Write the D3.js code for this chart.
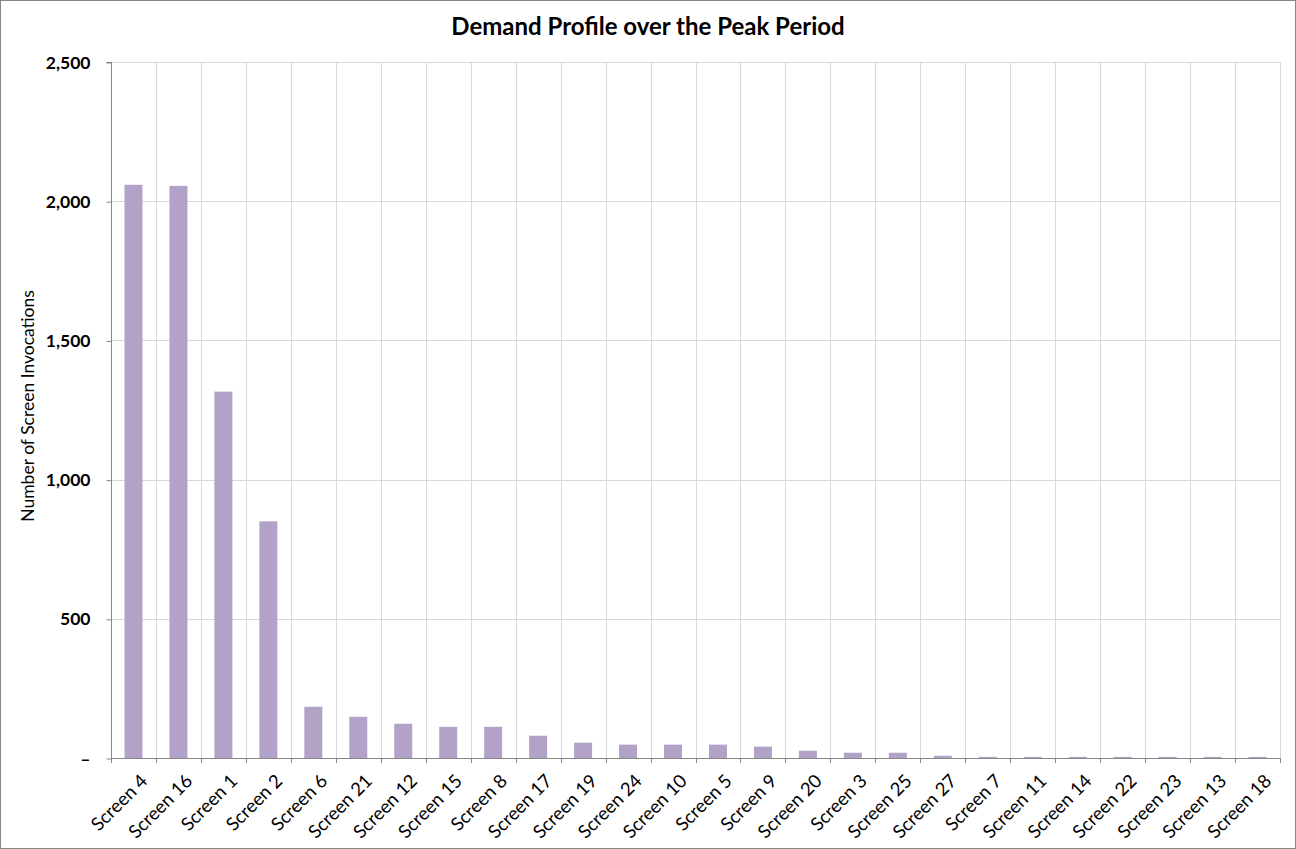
<!DOCTYPE html>
<html>
<head>
<meta charset="utf-8">
<script src="https://cdn.jsdelivr.net/npm/d3@7"></script>
<style>
html,body{margin:0;padding:0;background:#fff;}
svg{display:block;}
text{font-family:Lato,"Open Sans",sans-serif;fill:#000;}
</style>
</head>
<body>
<svg id="chart" width="1296" height="849"></svg>
<script>
const categories = ["Screen 4","Screen 16","Screen 1","Screen 2","Screen 6","Screen 21","Screen 12","Screen 15","Screen 8","Screen 17","Screen 19","Screen 24","Screen 10","Screen 5","Screen 9","Screen 20","Screen 3","Screen 25","Screen 27","Screen 7","Screen 11","Screen 14","Screen 22","Screen 23","Screen 13","Screen 18"];
const values = [2059,2055,1316,850,184,148,123,112,112,80,55,48,48,48,41,26,19,19,8,4,4,4,4,4,4,4];
const yTicks = [0,500,1000,1500,2000,2500];
const title = "Demand Profile over the Peak Period";
const yTitle = "Number of Screen Invocations";

const svg = d3.select("#chart");
const W = 1296, H = 849;
const m = {left:111, right:1280, top:62, bottom:758};

svg.append("rect").attr("x",0.5).attr("y",0.5).attr("width",W-1).attr("height",H-1)
  .attr("fill","#fff").attr("stroke","#868686").attr("stroke-width",1);

const x = d3.scaleBand().domain(categories).range([m.left,m.right]).paddingInner(0).paddingOuter(0);
const y = d3.scaleLinear().domain([0,2500]).range([m.bottom,m.top]);

// horizontal gridlines
svg.append("g").selectAll("line").data(yTicks.filter(d=>d>0)).join("line")
  .attr("x1",m.left).attr("x2",m.right)
  .attr("y1",d=>Math.round(y(d))+0.5).attr("y2",d=>Math.round(y(d))+0.5)
  .attr("stroke","#d9d9d9");
// vertical gridlines at category boundaries
const bounds = categories.map(c=>x(c)).slice(1).concat([m.right]);
svg.append("g").selectAll("line").data(bounds).join("line")
  .attr("x1",d=>Math.round(d)+0.5).attr("x2",d=>Math.round(d)+0.5)
  .attr("y1",m.top).attr("y2",m.bottom)
  .attr("stroke","#d9d9d9");

// bars
const bw = x.bandwidth()*0.4;
svg.append("g").selectAll("rect").data(values).join("rect")
  .attr("x",(d,i)=>x(categories[i])+(x.bandwidth()-bw)/2)
  .attr("width",bw)
  .attr("y",d=>y(d))
  .attr("height",d=>y(0)-y(d))
  .attr("fill","#b3a2c7");

// y axis
const yAxis = d3.axisLeft(y).tickValues(yTicks).tickSize(5).tickPadding(16)
  .tickFormat(d=>d===0?"–":d3.format(",")(d));
const gy = svg.append("g").attr("transform",`translate(${m.left+0.5},0.5)`).call(yAxis);
gy.select(".domain").attr("stroke","#868686").attr("d",`M-5,${m.top}H0V${m.bottom}`);
gy.selectAll(".tick line").attr("stroke","#868686");
gy.selectAll(".tick text").attr("font-size","17.5px").attr("font-family","Lato,sans-serif")
  .attr("font-weight","bold").attr("fill","#000");

// x axis
const xAxis = d3.axisBottom(x).tickSize(0).tickFormat("");
const gx = svg.append("g").attr("transform",`translate(0,${m.bottom+0.5})`).call(xAxis);
gx.select(".domain").attr("stroke","#868686").attr("d",`M${m.left},0H${m.right}`);
gx.selectAll(".tick").remove();
svg.append("g").selectAll("line").data([m.left].concat(bounds)).join("line")
  .attr("x1",d=>Math.round(d)+0.5).attr("x2",d=>Math.round(d)+0.5)
  .attr("y1",m.bottom).attr("y2",m.bottom+5)
  .attr("stroke","#868686");

// x labels
svg.append("g").selectAll("text").data(categories).join("text")
  .attr("transform",d=>`translate(${x(d)+x.bandwidth()/2+6},${m.bottom+15}) rotate(-45)`)
  .attr("text-anchor","end")
  .attr("dy","0.7em")
  .attr("font-size","18.5px")
  .text(d=>d);

// title
svg.append("text").attr("x",648).attr("y",35).attr("text-anchor","middle")
  .attr("font-size","24px").attr("font-weight","bold").text(title);

// y title
svg.append("text").attr("transform",`translate(34,406) rotate(-90)`)
  .attr("text-anchor","middle").attr("font-size","17.5px").text(yTitle);
</script>
</body>
</html>
